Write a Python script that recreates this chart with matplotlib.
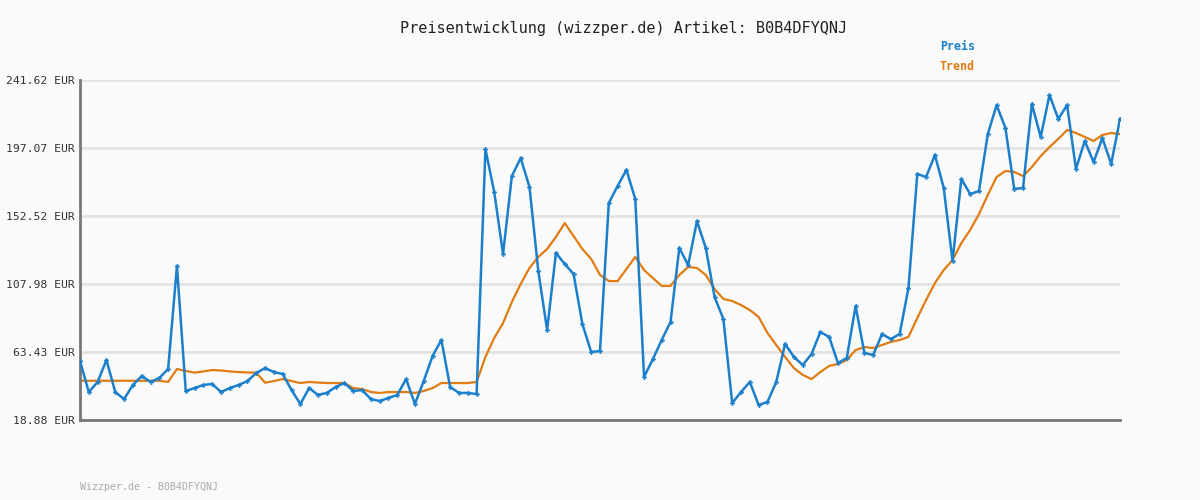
import numpy as np
import matplotlib
matplotlib.use("Agg")
import matplotlib.pyplot as plt

# values (EUR)
preis = [57.5, 37.2, 43.8, 58.2, 37.2, 32.6, 41.8, 47.7, 43.8, 46.4,
         52.3, 119.8, 37.9, 39.8, 41.8, 42.5, 37.2, 39.8, 41.8, 44.4,
         49.7, 52.9, 50.3, 49.0, 38.5, 29.4, 39.8, 35.3, 36.6, 40.5,
         43.1, 37.9, 38.5, 32.6, 31.3, 33.3, 35.3, 45.7, 29.4, 44.4,
         60.8, 71.3, 40.5, 36.6, 36.6, 35.9, 196.4, 168.2, 127.6, 178.7,
         190.5, 171.5, 116.5, 77.8, 128.3, 121.1, 114.5, 81.8, 63.4, 64.1,
         161.0, 172.2, 182.7, 163.7, 47.1, 58.8, 71.3, 83.1, 131.6, 120.4,
         149.2, 131.6, 99.5, 85.0, 30.0, 37.2, 43.8, 28.7, 30.7, 43.8,
         68.7, 60.2, 54.9, 62.1, 76.5, 73.3, 56.2, 59.5, 93.6, 62.8,
         61.5, 75.2, 71.9, 75.2, 105.4, 180.0, 178.1, 192.5, 170.9, 123.0,
         176.8, 166.9, 168.9, 206.2, 225.2, 210.2, 170.2, 170.9, 225.9, 204.3,
         231.8, 216.1, 225.2, 183.3, 201.7, 187.9, 203.6, 186.6, 216.1]

trend = [44.6, 44.6, 44.6, 44.6, 44.6, 44.6, 44.6, 44.6, 44.6, 44.6,
         43.8, 52.3, 51.0, 49.9, 50.7, 51.6, 51.3, 50.7, 50.3, 50.0,
         49.9, 43.3, 44.4, 45.7, 44.4, 43.1, 43.8, 43.4, 43.1, 43.1,
         43.1, 39.8, 39.2, 37.2, 36.6, 37.2, 37.2, 37.2, 36.6, 37.9,
         39.8, 43.1, 43.1, 43.1, 43.1, 43.8, 60.2, 72.6, 82.4, 96.2,
         108.0, 118.5, 125.7, 130.9, 138.8, 147.9, 139.4, 130.9, 124.4, 113.9,
         109.9, 109.9, 117.8, 125.7, 117.1, 111.9, 106.7, 106.7, 113.9, 119.1,
         118.5, 113.9, 104.7, 98.2, 96.8, 94.2, 90.9, 86.4, 75.9, 68.0,
         60.2, 52.9, 48.4, 45.7, 50.3, 54.3, 55.6, 58.2, 64.7, 66.7,
         66.0, 68.0, 70.0, 71.3, 73.3, 85.7, 97.5, 108.6, 117.1, 123.7,
         134.8, 143.4, 153.8, 166.3, 178.1, 182.0, 181.4, 178.7, 184.6, 191.8,
         197.7, 203.0, 208.9, 206.9, 204.3, 201.7, 205.6, 206.9, 206.2]

y_ticks = [18.88, 63.43, 107.98, 152.52, 197.07, 241.62]
artikel = "B0B4DFYQNJ"

BG = "#fafafa"
BLUE = "#1b7fcb"
ORANGE = "#e07c12"
MONO = "DejaVu Sans Mono"

fig = plt.figure(figsize=(12, 5), dpi=100, facecolor=BG)
ax = fig.add_axes([80 / 1200, 0.16, 1040 / 1200, 0.68], facecolor=BG)

x = np.arange(len(preis))
ax.plot(x, trend, color=ORANGE, lw=1.6, zorder=2)
ax.plot(x, preis, color=BLUE, lw=1.8, marker="P", ms=3.5, mew=0, zorder=3)

ax.set_xlim(0, len(preis) - 1)
ax.set_ylim(y_ticks[0], y_ticks[-1])
ax.set_yticks(y_ticks)
ax.set_yticklabels([f"{v:.2f} EUR" for v in y_ticks], family=MONO,
                   fontsize=8.2, color="#333333")
ax.set_xticks([])
ax.tick_params(axis="y", length=0, pad=4)
ax.grid(axis="y", color="#e3e3e3", lw=2)
ax.set_axisbelow(True)
for side in ("top", "right"):
    ax.spines[side].set_visible(False)
for side in ("left", "bottom"):
    ax.spines[side].set_color("#777777")
    ax.spines[side].set_linewidth(2)

fig.text(624 / 1200, 1 - 28 / 500, f"Preisentwicklung (wizzper.de) Artikel: {artikel}",
         ha="center", va="center", family=MONO, fontsize=11, color="#222222")
fig.text(940 / 1200, 1 - 47 / 500, "Preis", ha="left", va="center",
         family=MONO, fontsize=8.4, color=BLUE, weight="bold")
fig.text(940 / 1200, 1 - 67 / 500, "Trend", ha="left", va="center",
         family=MONO, fontsize=8.4, color=ORANGE, weight="bold")
fig.text(80 / 1200, 1 - 487 / 500, f"Wizzper.de - {artikel}", ha="left", va="center",
         family=MONO, fontsize=7.2, color="#aaaaaa")

fig.savefig("out.png", dpi=100, facecolor=BG)
